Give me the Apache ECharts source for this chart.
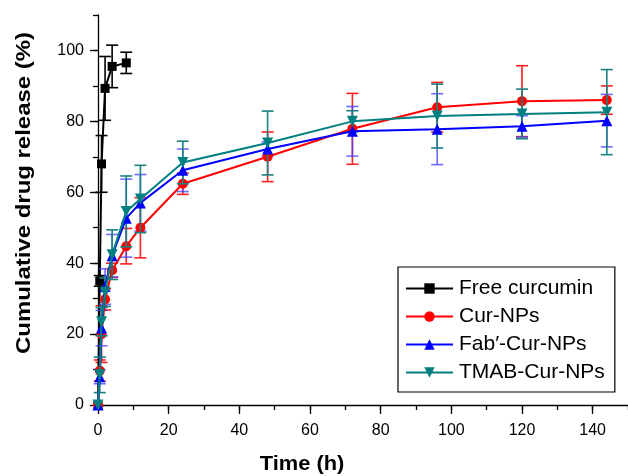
<!DOCTYPE html>
<html><head><meta charset="utf-8">
<script src="https://cdn.jsdelivr.net/npm/echarts@6/dist/echarts.min.js"></script>
<style>html,body{margin:0;padding:0;background:#fff}#c{width:628px;height:476px}</style>
</head><body><div id="c"></div>
<script>
// ---- data ----
const seriesNames = ['Free curcumin', 'Cur-NPs', 'Fab\u2032-Cur-NPs', 'TMAB-Cur-NPs'];
const freeTimes = [0, 0.5, 1, 2, 4, 8];
const freeVals  = [0, 35, 68, 89.3, 95.5, 96.5];
const freeErr   = [0, 1.5, 8, 9, 6, 3];
const npTimes   = [0, 0.5, 1, 2, 4, 8, 12, 24, 48, 72, 96, 120, 144];
const curVals   = [0, 9.7, 20, 29.8, 38, 44.8, 50, 62.4, 70, 77.9, 84, 85.7, 86];
const curErr    = [0, 3, 8, 3, 2, 5, 8.5, 3, 7, 10, 7, 10, 4];
const fabVals   = [0, 8, 21.7, 33.4, 42.1, 52.7, 57, 66.2, 72.2, 77.2, 77.8, 78.6, 80.2];
const fabErr    = [0, 2, 5, 5, 6, 11, 8, 6, 2, 7, 10, 3, 7.4];
const tmabVals  = [0, 8.5, 23.5, 31.8, 42.4, 54.6, 58.1, 68.4, 73.9, 80, 81.5, 82.1, 82.6];
const tmabErr   = [0, 5, 4, 4, 7, 10, 9.5, 6, 9, 3, 9, 7, 12];
const xTicks = [0, 20, 40, 60, 80, 100, 120, 140];
const yTicks = [0, 20, 40, 60, 80, 100];

const colors = ['#000000', '#ff0000', '#0000ff', '#008080'];
const errColors = ['#000000', '#ff2020', 'rgba(60,60,255,0.75)', '#1a8080'];
const symbols = ['rect', 'circle', 'triangle', 'path://M0,0 L10,0 L5,9 Z'];
const symSizes = [9, 10, 11, 11];

function pairs(t, v) { return t.map((x, i) => [x, v[i]]); }
function triples(t, v, e) { return t.map((x, i) => [x, v[i], e[i]]); }

const groups = [
  [freeTimes, freeVals, freeErr],
  [npTimes, curVals, curErr],
  [npTimes, fabVals, fabErr],
  [npTimes, tmabVals, tmabErr]
];

const series = [];
groups.forEach((g, k) => {
  series.push({
    name: 'err' + k,
    type: 'custom',
    data: triples(g[0], g[1], g[2]),
    z: 2 + k,
    renderItem: function (params, api) {
      const x = api.value(0), y = api.value(1), e = api.value(2);
      if (!e) return null;
      const top = api.coord([x, y + e]);
      const bot = api.coord([x, y - e]);
      const w = 6;
      const st = { stroke: errColors[k], lineWidth: 1.6 };
      return {
        type: 'group',
        children: [
          { type: 'line', shape: { x1: top[0], y1: top[1], x2: bot[0], y2: bot[1] }, style: st },
          { type: 'line', shape: { x1: top[0] - w, y1: top[1], x2: top[0] + w, y2: top[1] }, style: st },
          { type: 'line', shape: { x1: bot[0] - w, y1: bot[1], x2: bot[0] + w, y2: bot[1] }, style: st }
        ]
      };
    }
  });
  series.push({
    name: seriesNames[k],
    type: 'line',
    data: pairs(g[0], g[1]),
    z: 3 + k,
    symbol: symbols[k],
    symbolSize: symSizes[k],
    showAllSymbol: true,
    lineStyle: { color: colors[k], width: 2 },
    itemStyle: { color: colors[k] },
    emphasis: { disabled: true },
    animation: false
  });
});

const tickLine = { color: '#000', width: 1.3 };
const chart = echarts.init(document.getElementById('c'), null, { renderer: 'canvas' });
chart.setOption({
  animation: false,
  textStyle: { fontFamily: 'Liberation Sans, Arial, sans-serif' },
  grid: { left: 98, right: 0, top: 15, bottom: 71 },
  xAxis: [{
    type: 'value', min: 0, max: 150, interval: 20,
    axisLine: { lineStyle: tickLine },
    axisTick: { length: 9, lineStyle: tickLine },
    splitLine: { show: false },
    axisLabel: { color: '#000', fontSize: 16, margin: 18, showMaxLabel: false,
      formatter: v => xTicks.includes(v) ? String(v) : '' }
  }, {
    // minor ticks every 10 h
    type: 'value', position: 'bottom', min: 0, max: 150, interval: 10,
    axisLine: { show: false }, axisLabel: { show: false }, splitLine: { show: false },
    axisTick: { show: true, length: 5, lineStyle: tickLine }
  }],
  yAxis: [{
    type: 'value', min: 0, max: 110, interval: 20,
    axisLine: { show: true, lineStyle: tickLine },
    axisTick: { show: true, length: 8, lineStyle: tickLine },
    splitLine: { show: false },
    axisLabel: { color: '#000', fontSize: 16, margin: 14, showMaxLabel: false,
      formatter: v => yTicks.includes(v) ? String(v) : '' }
  }, {
    // minor ticks every 10 %
    type: 'value', position: 'left', min: 0, max: 110, interval: 10,
    axisLine: { show: false }, axisLabel: { show: false }, splitLine: { show: false },
    axisTick: { show: true, length: 5, lineStyle: tickLine }
  }],
  legend: {
    data: seriesNames,
    orient: 'vertical',
    left: 398, top: 267,
    padding: [11, 10, 9, 7],
    itemGap: 7,
    itemWidth: 47, itemHeight: 13,
    backgroundColor: '#fff',
    borderColor: '#000', borderWidth: 1.2, borderRadius: 0,
    textStyle: { fontSize: 21, color: '#000', padding: [0, 0, 0, 1] },
    selectedMode: false
  },
  graphic: [
    { type: 'text', silent: true,
      x: 24, y: 193, rotation: Math.PI / 2, scaleX: 1.14,
      style: { text: 'Cumulative drug release (%)', font: 'bold 21px "Liberation Sans", Arial, sans-serif', fill: '#000',
        textAlign: 'center', textVerticalAlign: 'middle' } },
    { type: 'text', silent: true,
      x: 302, y: 464, scaleX: 1.04,
      style: { text: 'Time (h)', font: 'bold 21px "Liberation Sans", Arial, sans-serif', fill: '#000',
        textAlign: 'center', textVerticalAlign: 'middle' } }
  ],
  series: series
});
</script></body></html>
